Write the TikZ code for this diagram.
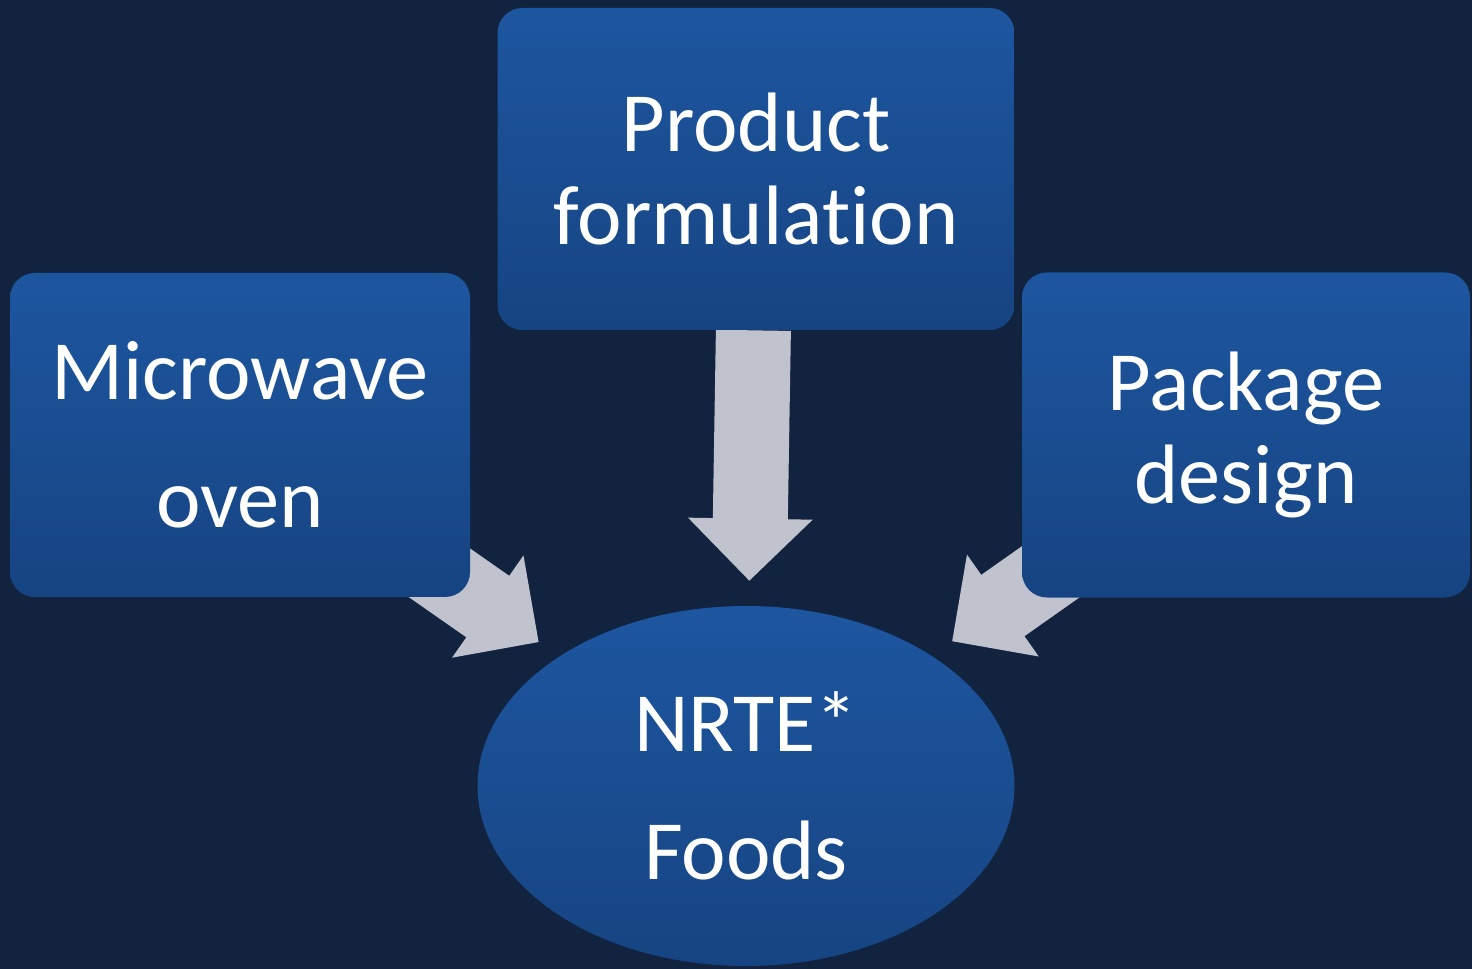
\documentclass[tikz,border=0pt]{standalone}
\usepackage{fontspec}
\setmainfont{Carlito}[Ligatures=NoCommon]
\usetikzlibrary{arrows.meta, shapes.geometric}

\definecolor{navy}{RGB}{18,35,63}
\definecolor{boxtop}{RGB}{29,86,160}
\definecolor{boxbot}{RGB}{22,68,130}
\definecolor{arrowgray}{RGB}{192,195,206}

\pgfdeclarelayer{bg}
\pgfdeclarelayer{arr}
\pgfsetlayers{bg,arr,main}

\begin{document}
\begin{tikzpicture}[
    box/.style={rectangle, rounded corners=0.5cm, top color=boxtop, bottom color=boxbot,
        text=white, align=center, inner sep=0pt, font=\fontsize{48}{53}\selectfont},
    oval/.style={ellipse, top color=boxtop, bottom color=boxbot,
        text=white, align=center, inner sep=0pt, font=\fontsize{48}{53}\selectfont},
    bigarrow/.style={draw=arrowgray, line width=1.5cm,
        -{Triangle[length=1.24cm, width=2.48cm, line width=2pt]}}]
    \useasboundingbox (0,0) rectangle (29.44,-19.38);
    \begin{pgfonlayer}{bg}
    \fill[navy] (0,0) rectangle (29.44,-19.38);
    \end{pgfonlayer}

    \node[box, minimum width=10.34cm, minimum height=6.44cm] (prod) at (15.12,-3.38) {Product\\formulation};
    \node[box, minimum width=9.2cm, minimum height=6.48cm] (micro) at (4.8,-8.7) {Microwave\\[20pt]oven};
    \node[box, minimum width=8.96cm, minimum height=6.5cm] (pack) at (24.92,-8.7) {Package\\design};
    \node[oval, minimum width=10.74cm, minimum height=7.2cm] (foods) at (14.92,-15.72) {NRTE*\\[20pt]Foods};

    % arrows sit behind the boxes
    \begin{pgfonlayer}{arr}
    \draw[bigarrow, shorten >=0.5cm] (prod) -- (foods);
    \draw[bigarrow, shorten <=-2cm, shorten >=0.5cm] (micro) -- (foods);
    \draw[bigarrow, shorten <=-2cm, shorten >=0.5cm] (pack) -- (foods);
    \end{pgfonlayer}
\end{tikzpicture}
\end{document}
